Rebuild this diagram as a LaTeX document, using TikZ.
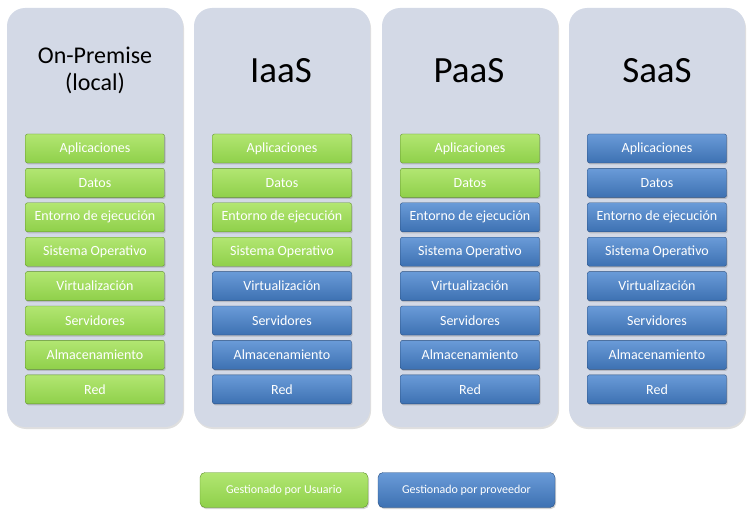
\documentclass[tikz,border=0pt]{standalone}
\usepackage{fontspec}
\setmainfont{Carlito}
\usetikzlibrary{shadows}

\definecolor{panelgray}{HTML}{D3D9E6}
\definecolor{usergreen}{HTML}{8FD04A}
\definecolor{usergreentop}{HTML}{B2E672}
\definecolor{userdark}{HTML}{5E8F2A}
\definecolor{provblue}{HTML}{3D71B2}
\definecolor{provbluetop}{HTML}{6A9BD8}
\definecolor{provdark}{HTML}{2A4F80}

\tikzset{
  panel/.style={fill=panelgray, rounded corners=18pt, minimum width=176pt, minimum height=419pt,
    drop shadow={opacity=0.25, shadow xshift=1pt, shadow yshift=-2pt}},
  title/.style={align=center, text=black},
  layer/.style={minimum width=139pt, minimum height=29pt, rounded corners=2pt, text=white,
    font=\fontsize{14}{16}\selectfont, drop shadow={opacity=0.35, shadow xshift=1pt, shadow yshift=-1.5pt}},
  user/.style={layer, draw=userdark, top color=usergreentop, bottom color=usergreen},
  prov/.style={layer, draw=provdark, top color=provbluetop, bottom color=provblue},
  legend/.style={minimum height=35pt, rounded corners=5pt, font=\fontsize{12}{14}\selectfont},
}

\begin{document}
\begin{tikzpicture}[x=1pt, y=-1pt]
\useasboundingbox (0,0) rectangle (753,516);

% Columns with their layers
\foreach \col/\cx/\ngreen in {1/95/8, 2/282/4, 3/470/2, 4/657/0}{
  \node[panel] (p\col) at (\cx,217.5) {};
  \foreach [count=\r] \lbl in {Aplicaciones, Datos, Entorno de ejecución, Sistema Operativo,
      Virtualización, Servidores, Almacenamiento, Red}{
    \ifnum\r>\ngreen \def\kind{prov}\else\def\kind{user}\fi
    \node[\kind] (c\col r\r) at (\cx,148.5+34.4*\r-34.4) {\lbl};
  }
}

% Titles
\node[title, font=\fontsize{24}{27}\selectfont] (onprem) at (95,70.5) {On-Premise\\(local)};
\node[title, font=\fontsize{37}{40}\selectfont] (iaas) at (281,71) {IaaS};
\node[title, font=\fontsize{37}{40}\selectfont] (paas) at (469,71) {PaaS};
\node[title, font=\fontsize{37}{40}\selectfont] (saas) at (657,71) {SaaS};

% Legend
\node[user, legend, minimum width=168pt] (leguser) at (284,490) {Gestionado por Usuario};
\node[prov, legend, minimum width=177pt] (legprov) at (466.5,490) {Gestionado por proveedor};

\end{tikzpicture}
\end{document}
